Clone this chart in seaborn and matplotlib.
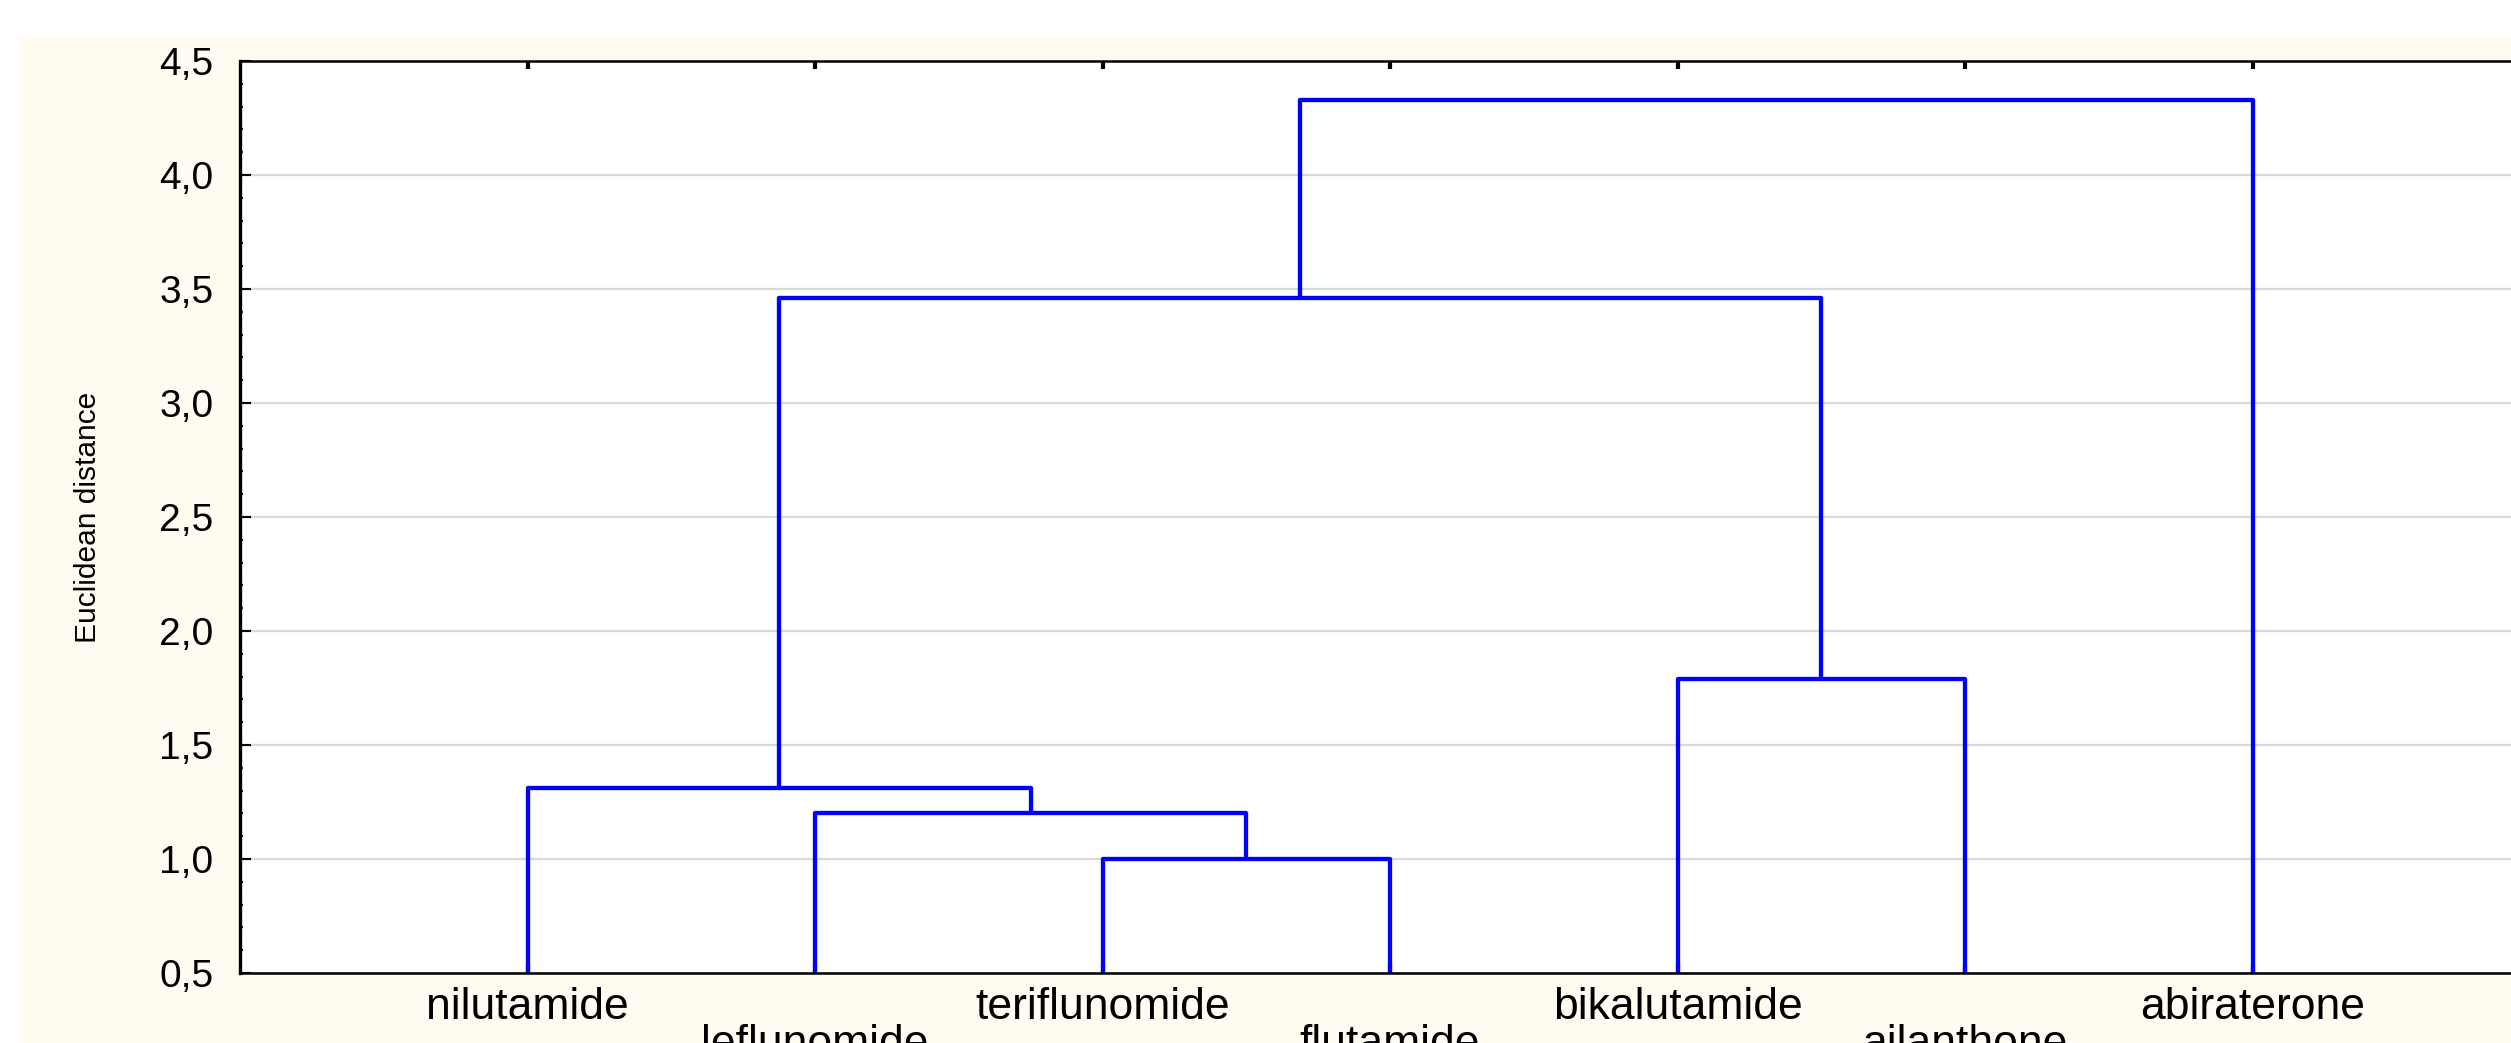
import numpy as np
import pandas as pd
import matplotlib
matplotlib.use('Agg')
import matplotlib.pyplot as plt
import seaborn as sns
from matplotlib.patches import Rectangle
from matplotlib.ticker import FixedLocator, MultipleLocator

# leaf order as drawn
leaves = ['nilutamide', 'leflunomide', 'teriflunomide', 'flutamide',
          'bikalutamide', 'ailanthone', 'abiraterone']
# merges: ids < 7 are leaves, id 7 + k is the k-th merge
link_left = [2, 1, 0, 4, 9, 11]
link_right = [3, 7, 8, 5, 10, 6]
link_height = [1.00, 1.20, 1.31, 1.79, 3.46, 4.33]

y_ticks = [0.5, 1.0, 1.5, 2.0, 2.5, 3.0, 3.5, 4.0, 4.5]
y_tick_labels = ['0,5', '1,0', '1,5', '2,0', '2,5', '3,0', '3,5', '4,0', '4,5']
y_label = 'Euclidean distance'

# dendrogram segments from linkage
pos = {i: (i + 1, 0.0) for i in range(len(leaves))}
rows = []
for k, (a, b, h) in enumerate(zip(link_left, link_right, link_height)):
    xa, ya = pos[a]
    xb, yb = pos[b]
    for x, y in [(xa, ya), (xa, h), (xb, h), (xb, yb)]:
        rows.append({'link': k, 'x': x, 'y': y})
    pos[len(leaves) + k] = ((xa + xb) / 2, h)
seg_df = pd.DataFrame(rows)

sns.set_theme(style='white')
plt.rcParams['font.family'] = ['Liberation Sans', 'DejaVu Sans']

W, H = 2511, 1043
fig = plt.figure(figsize=(W / 100, H / 100), dpi=100, facecolor='white')
fig.patches.append(Rectangle((20 / W, 0), 1, (H - 37) / H, transform=fig.transFigure,
                             facecolor='#FFFBF0', edgecolor='none', zorder=-10))

ax = fig.add_axes([240 / W, (H - 973) / H, 2300 / W, 912 / H])
ax.set_facecolor('white')

sns.lineplot(data=seg_df, x='x', y='y', units='link', estimator=None, sort=False,
             color='#0000FF', lw=3.1, ax=ax, legend=False)

ax.set_xlim(0, 8)
ax.set_ylim(0.5, 4.5)

# y axis
ax.yaxis.set_major_locator(FixedLocator(y_ticks))
ax.set_yticklabels(y_tick_labels, fontsize=28)
ax.yaxis.set_minor_locator(MultipleLocator(0.1))
ax.tick_params(axis='y', which='major', direction='in', length=8, width=1.5,
               pad=19, colors='black', left=True, right=False)
ax.tick_params(axis='y', which='minor', direction='in', length=2.5, width=1.5,
               left=True, right=False)
ax.yaxis.grid(True, which='major', color='#D9D9D9', lw=1.6)
ax.set_axisbelow(True)

# x axis: alternate label rows using major/minor ticks
odd = list(range(0, len(leaves), 2))
even = list(range(1, len(leaves), 2))
ax.xaxis.set_major_locator(FixedLocator([i + 1 for i in odd]))
ax.xaxis.set_minor_locator(FixedLocator([i + 1 for i in even]))
ax.set_xticklabels([leaves[i] for i in odd], fontsize=32)
ax.set_xticklabels([leaves[i] for i in even], minor=True, fontsize=32)
ax.tick_params(axis='x', which='major', direction='in', length=6, width=3,
               pad=10, bottom=True, top=True, colors='black')
ax.tick_params(axis='x', which='minor', direction='in', length=6, width=3,
               pad=37, bottom=True, top=True, colors='black')

ax.set_xlabel('')
ax.set_ylabel(y_label, fontsize=21.5, color='black')
ax.yaxis.set_label_coords(-0.06, 0.5)

for side in ['left', 'top', 'bottom', 'right']:
    ax.spines[side].set_color('black')
ax.spines['left'].set_linewidth(2.4)
ax.spines['top'].set_linewidth(1.8)
ax.spines['bottom'].set_linewidth(1.8)
ax.spines['right'].set_linewidth(1.8)

fig.savefig('out.png', dpi=100, facecolor='white')
